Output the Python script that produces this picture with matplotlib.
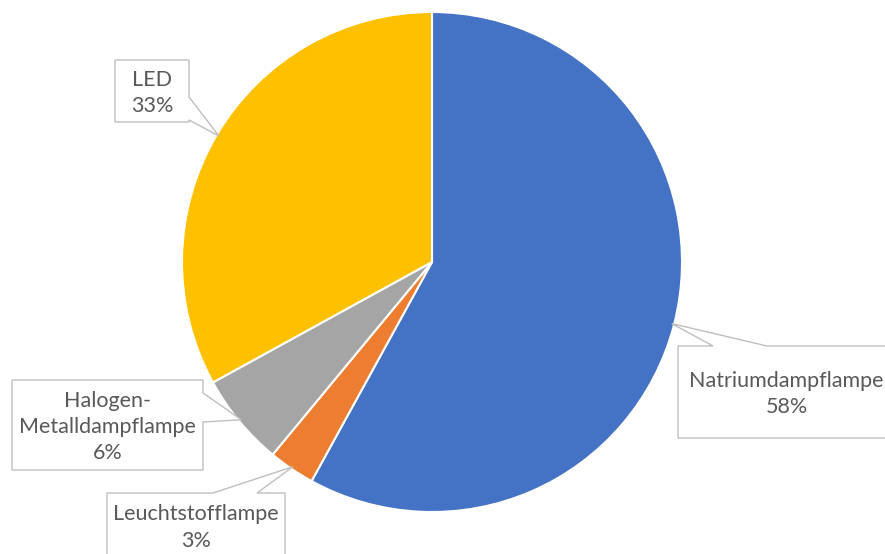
import numpy as np
import matplotlib.pyplot as plt
from matplotlib.patches import Polygon

# Data
labels = ["Natriumdampflampe", "Leuchtstofflampe", "Halogen-\nMetalldampflampe", "LED"]
shares = [58, 3, 6, 33]
colors = ["#4472C4", "#ED7D31", "#A5A5A5", "#FFC000"]

# Layout (pixel coords, y down): pie centre/radius, callout boxes
W, H = 885, 554
CX, CY, R = 432, 262, 250
boxes = [
    ((678, 346, 895, 438), "top", (713, 767)),
    ((107, 493, 285, 558), "top", (213, 257)),
    ((12, 380, 203, 470), "right", (393, 422)),
    ((115, 60, 189, 122), "right", (97, 120)),
]

plt.rcParams['font.family'] = ['Lato', 'DejaVu Sans']

fig = plt.figure(figsize=(W / 100, H / 100), dpi=100)
ax = fig.add_axes([0, 0, 1, 1])

wedges, _ = ax.pie(shares, colors=colors, startangle=90, counterclock=False,
                   center=(CX, H - CY), radius=R,
                   wedgeprops=dict(edgecolor="white", linewidth=1.5))
ax.set_xlim(0, W)
ax.set_ylim(0, H)
ax.set_aspect('equal')
ax.axis('off')


def callout(box, side, span, tip):
    x0, y0, x1, y1 = box
    a, b = span
    if side == "top":
        pts = [(x0, y0), (a, y0), tip, (b, y0), (x1, y0), (x1, y1), (x0, y1)]
    else:
        pts = [(x0, y0), (x1, y0), (x1, a), tip, (x1, b), (x1, y1), (x0, y1)]
    return [(x, H - y) for x, y in pts]


for w, lab, val, (box, side, span) in zip(wedges, labels, shares, boxes):
    mid = np.deg2rad((w.theta1 + w.theta2) / 2)
    tip = (CX + R * 0.99 * np.cos(mid), CY - R * 0.99 * np.sin(mid))
    poly = Polygon(callout(box, side, span, tip), closed=True,
                   facecolor="white", edgecolor="#BFBFBF", linewidth=1.0, zorder=3)
    ax.add_patch(poly)
    cx = (box[0] + box[2]) / 2
    cy = (box[1] + box[3]) / 2
    ax.text(cx, H - cy - 2, f"{lab}\n{val}%", ha='center', va='center',
            fontsize=15.5, color="#595959", linespacing=1.4, zorder=4)

fig.savefig("out.png", dpi=100)
